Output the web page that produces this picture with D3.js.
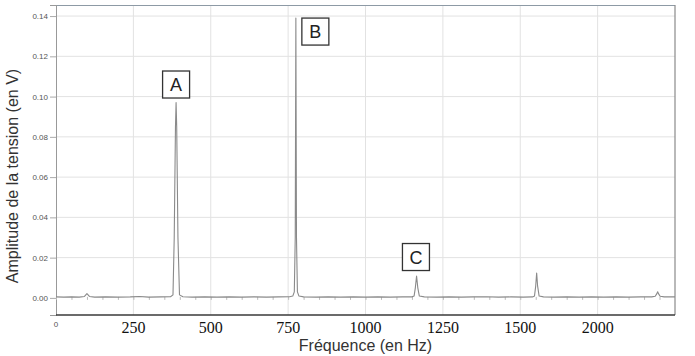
<!DOCTYPE html>
<html>
<head>
<meta charset="utf-8">
<script src="https://cdn.jsdelivr.net/npm/d3@7"></script>
<style>
  html, body { margin: 0; padding: 0; background: #fff; }
  svg { display: block; }
</style>
</head>
<body>
<div id="chart"></div>
<script>
// spectrum samples (Hz, V)
const freqs = [0, 25, 50, 75, 92, 100, 108, 125, 160, 200, 240, 270, 300, 340, 370, 378, 382, 386, 388, 390, 394, 399, 410, 440, 480, 520, 560, 600, 640, 680, 720, 755, 765, 770, 773, 775, 777, 780, 785, 800, 840, 880, 920, 960, 1000, 1040, 1080, 1120, 1150, 1157, 1161, 1165, 1169, 1174, 1190, 1230, 1270, 1310, 1350, 1390, 1430, 1470, 1510, 1540, 1546, 1550, 1553, 1556, 1561, 1575, 1610, 1650, 1690, 1730, 1770, 1810, 1850, 1890, 1925, 1936, 1941, 1944, 1947, 1952, 1965, 2000];
const amps = [0.0005, 0.0004, 0.0005, 0.0004, 0.0007, 0.0021, 0.0007, 0.0004, 0.0005, 0.0004, 0.0005, 0.0007, 0.0004, 0.0005, 0.0006, 0.0015, 0.03, 0.085, 0.097, 0.085, 0.03, 0.0015, 0.0006, 0.0004, 0.0005, 0.0004, 0.0005, 0.0004, 0.0005, 0.0004, 0.0005, 0.0006, 0.0009, 0.003, 0.03, 0.139, 0.03, 0.003, 0.0009, 0.0005, 0.0004, 0.0005, 0.0004, 0.0005, 0.0004, 0.0005, 0.0004, 0.0005, 0.0005, 0.0009, 0.005, 0.0109, 0.005, 0.0009, 0.0005, 0.0004, 0.0005, 0.0004, 0.0005, 0.0006, 0.0004, 0.0005, 0.0004, 0.0005, 0.0009, 0.006, 0.0124, 0.006, 0.0009, 0.0005, 0.0004, 0.0005, 0.0004, 0.0005, 0.0004, 0.0005, 0.0004, 0.0005, 0.0005, 0.0008, 0.002, 0.003, 0.002, 0.0008, 0.0005, 0.0005];

const xGrid = [0, 250, 500, 750, 1000, 1250, 1500, 1750];
const xTickLabels = ['0', '250', '500', '750', '1000', '1250', '1500', '2000'];
const yTicks = [0, 0.02, 0.04, 0.06, 0.08, 0.10, 0.12, 0.14];

// boxed letters, anchored in data units
const notes = [
  { text: 'A', f: 388, v: 0.106 },
  { text: 'B', f: 838, v: 0.1323 },
  { text: 'C', f: 1163, v: 0.0203 }
];

const width = 695, height = 356;
const margin = { top: 5, right: 20, bottom: 41, left: 56 };

const svg = d3.select('#chart').append('svg')
  .attr('width', width)
  .attr('height', height)
  .style('font-family', '"Liberation Sans", Arial, sans-serif');

svg.append('rect').attr('width', width).attr('height', height).attr('fill', '#fff');

const x = d3.scaleLinear().domain([0, 2000]).range([margin.left, width - margin.right]);
const y = d3.scaleLinear().domain([-0.0085, 0.1455]).range([height - margin.bottom, margin.top]);

const x0 = x.range()[0], x1 = x.range()[1];
const yTop = y.range()[1], yBot = y.range()[0];

// grid
svg.append('g').selectAll('line')
  .data(xGrid.slice(1))
  .enter().append('line')
  .attr('x1', d => x(d)).attr('x2', d => x(d))
  .attr('y1', yTop).attr('y2', yBot)
  .attr('stroke', '#e2e2e2').attr('stroke-width', 1);

svg.append('g').selectAll('line')
  .data(yTicks.slice(1))
  .enter().append('line')
  .attr('x1', x0).attr('x2', x1)
  .attr('y1', d => y(d)).attr('y2', d => y(d))
  .attr('stroke', '#e2e2e2').attr('stroke-width', 1);

// frame
svg.append('line').attr('x1', x0).attr('x2', x1).attr('y1', yTop + 0.5).attr('y2', yTop + 0.5)
  .attr('stroke', '#8d9aa5').attr('stroke-width', 1.2);
svg.append('line').attr('x1', x1).attr('x2', x1).attr('y1', yTop).attr('y2', yBot)
  .attr('stroke', '#8a8a8a').attr('stroke-width', 1.2);

// y axis
const yAxis = svg.append('g')
  .attr('transform', `translate(${x0},0)`)
  .call(d3.axisLeft(y).tickValues(yTicks).tickSize(6).tickPadding(2).tickFormat(d3.format('.2f')));
yAxis.select('.domain').attr('stroke', '#999');
yAxis.selectAll('.tick line').attr('stroke', '#aaa');
yAxis.selectAll('.tick text')
  .attr('fill', '#555')
  .style('font-size', '8px')
  .style('font-family', '"Liberation Sans", Arial, sans-serif');

// bottom axis line
svg.append('line').attr('x1', x0).attr('x2', x1).attr('y1', yBot).attr('y2', yBot)
  .attr('stroke', '#3a3a3a').attr('stroke-width', 1.6);

// x tick labels (first small sans, the rest serif as in the picture)
svg.append('g').selectAll('text')
  .data(xGrid)
  .enter().append('text')
  .attr('x', d => x(d))
  .attr('y', (d, i) => i === 0 ? yBot + 12 : yBot + 18)
  .attr('text-anchor', 'middle')
  .attr('fill', (d, i) => i === 0 ? '#555' : '#111')
  .style('font-size', (d, i) => i === 0 ? '8px' : '16px')
  .style('font-family', (d, i) => i === 0 ? '"Liberation Sans", Arial, sans-serif' : '"Liberation Serif", "Times New Roman", serif')
  .text((d, i) => xTickLabels[i]);

// little marks along the zero line
const zeroAxis = svg.append('g')
  .attr('transform', `translate(0,${y(0) + 1})`)
  .call(d3.axisBottom(x).ticks(40).tickSize(3).tickFormat(''));
zeroAxis.select('.domain').remove();
zeroAxis.selectAll('.tick line').attr('stroke', '#bbb').attr('transform', 'translate(0,-2)');

// spectrum
const pts = freqs.map((f, i) => [f, amps[i]]);
svg.append('path')
  .datum(pts)
  .attr('fill', 'none')
  .attr('stroke', '#8a8a8a')
  .attr('stroke-width', 1.1)
  .attr('stroke-linejoin', 'round')
  .attr('d', d3.line().x(d => x(d[0])).y(d => y(d[1])));

// boxed letters
const box = 27;
const ng = svg.append('g').selectAll('g')
  .data(notes)
  .enter().append('g')
  .attr('transform', d => `translate(${x(d.f)},${y(d.v)})`);
ng.append('rect')
  .attr('x', -box / 2).attr('y', -box / 2)
  .attr('width', box).attr('height', box)
  .attr('fill', '#fff').attr('stroke', '#333').attr('stroke-width', 1.3);
ng.append('text')
  .attr('text-anchor', 'middle')
  .attr('y', 6.5)
  .attr('fill', '#222')
  .style('font-size', '18px')
  .text(d => d.text);

// axis titles
svg.append('text')
  .attr('x', (x0 + x1) / 2)
  .attr('y', 351)
  .attr('text-anchor', 'middle')
  .attr('fill', '#333')
  .style('font-size', '16px')
  .text('Fréquence (en Hz)');

svg.append('text')
  .attr('transform', `translate(18,${(yTop + yBot) / 2 + 16}) rotate(-90)`)
  .attr('text-anchor', 'middle')
  .attr('fill', '#333')
  .style('font-size', '16px')
  .text('Amplitude de la tension (en V)');
</script>
</body>
</html>
